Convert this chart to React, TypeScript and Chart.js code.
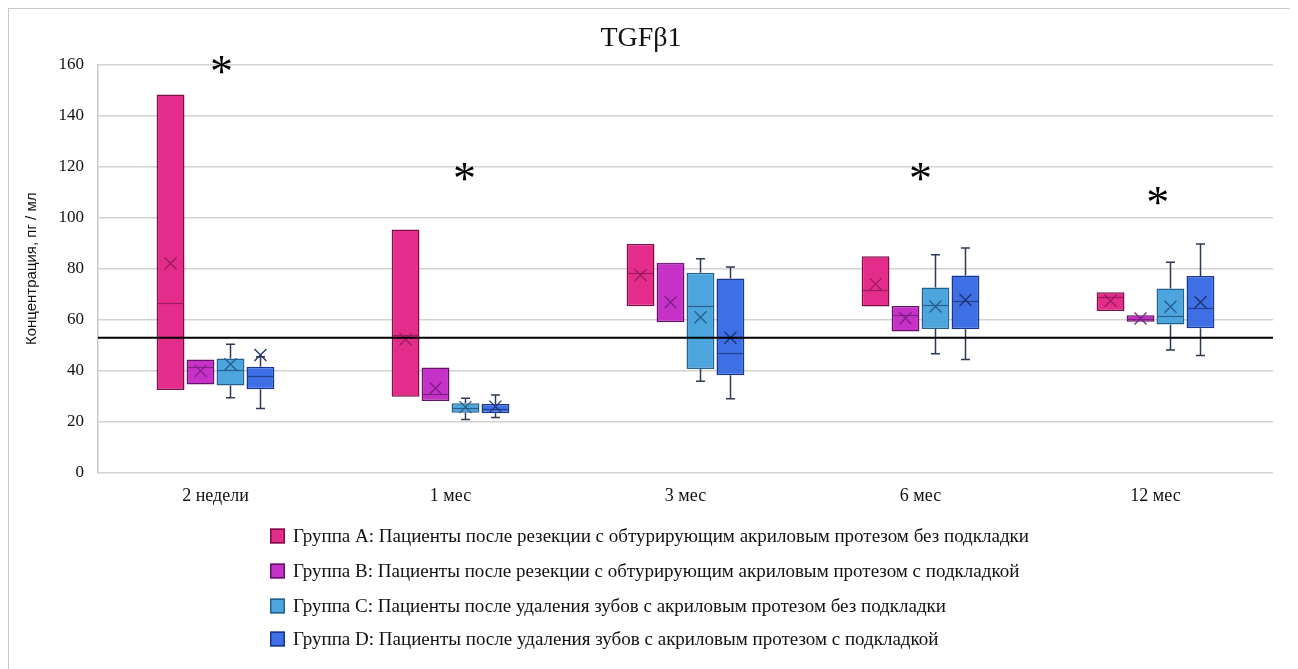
import React, { useEffect, useRef } from 'react';
import { Chart, registerables } from 'chart.js';

Chart.register(...registerables);

const title = 'TGFβ1';
const yAxisTitle = 'Концентрация, пг / мл';
const categories = ['2 недели', '1 мес', '3 мес', '6 мес', '12 мес'];
const groupNames = [
  'Группа A: Пациенты после резекции с обтурирующим акриловым протезом без подкладки',
  'Группа B: Пациенты после резекции с обтурирующим акриловым протезом с подкладкой',
  'Группа C: Пациенты после удаления зубов с акриловым протезом без подкладки',
  'Группа D: Пациенты после удаления зубов с акриловым протезом с подкладкой',
];
const yTicksMin = 0;
const yTicksMax = 160;
const yTicksStep = 20;

// Group A
const minA = [32.5, 29.9, 65.3, 65.2, 63.5];
const q1A = [32.5, 29.9, 65.3, 65.2, 63.5];
const medianA = [66.5, 54, 78.2, 71.8, 69];
const q3A = [148.3, 95.4, 89.7, 84.9, 70.8];
const maxA = [148.3, 95.4, 89.7, 84.9, 70.8];
const meanA = [82.1, 52.4, 77.6, 74, 67.5];

// Group B
const minB = [34.7, 28.2, 59.1, 55.4, 59.3];
const q1B = [34.7, 28.2, 59.1, 55.4, 59.3];
const medianB = [41.4, 30.8, 82.3, 61.8, 60.5];
const q3B = [44.5, 41.3, 82.3, 65.4, 61.8];
const maxB = [44.5, 41.3, 82.3, 65.4, 61.8];
const meanB = [40, 33.2, 66.9, 60.6, 60.5];

// Group C
const minC = [29.5, 21, 35.9, 46.7, 48.2];
const q1C = [34.3, 23.6, 40.7, 56.4, 58.2];
const medianC = [40.3, 25.6, 65.3, 65.8, 61.5];
const q3C = [44.9, 27.3, 78.5, 72.7, 72.3];
const maxC = [50.4, 29.3, 83.9, 85.5, 82.6];
const meanC = [42.6, 25.8, 61, 65.2, 65.1];

// Group D
const minD = [25.3, 21.7, 29.1, 44.5, 46];
const q1D = [32.8, 23.4, 38.3, 56.3, 56.7];
const medianD = [38, 25.2, 47.1, 67.4, 64.8];
const q3D = [41.6, 27, 76.2, 77.4, 77.2];
const maxD = [45.5, 30.6, 80.7, 88.1, 89.7];
const meanD = [46.2, 26, 53, 67.8, 66.9];

// Reference level (horizontal line)
const referenceLevel = 53;

// Significance asterisks (category position, value)
const asteriskPositions = [0.025, 1.06, 3.0, 4.01];
const asteriskValues = [159.8, 118, 118, 108.5];

const groups = [
  { min: minA, q1: q1A, median: medianA, q3: q3A, max: maxA, mean: meanA },
  { min: minB, q1: q1B, median: medianB, q3: q3B, max: maxB, mean: meanB },
  { min: minC, q1: q1C, median: medianC, q3: q3C, max: maxC, mean: meanC },
  { min: minD, q1: q1D, median: medianD, q3: q3D, max: maxD, mean: meanD },
];

const fills = ['#E42C8B', '#C632C8', '#4CA6DD', '#3F6FE4'];
const borders = ['#7E0C45', '#641266', '#25618D', '#18368F'];
const medianColors = ['#9C1D5E', '#82208A', '#2A5F8C', '#22408F'];
const meanColors = ['#9A1C5C', '#7E1E86', '#245E8C', '#1E3170'];
const whiskerColor = '#2C3A56';
const serif = '"Liberation Serif", "Times New Roman", serif';

const boxPlugin = {
  id: 'boxExtras',
  beforeDatasetsDraw(chart: any) {
    const ctx = chart.ctx;
    const y = chart.scales.y;
    ctx.save();
    ctx.strokeStyle = whiskerColor;
    ctx.lineWidth = 1.5;
    groups.forEach((g, i) => {
      const meta = chart.getDatasetMeta(i);
      meta.data.forEach((bar: any, j: number) => {
        const x = Math.round(bar.x) + 0.5;
        const cap = 4.5;
        const seg = (a: number, b: number) => {
          const ya = y.getPixelForValue(a);
          const yb = y.getPixelForValue(b);
          ctx.beginPath();
          ctx.moveTo(x, ya);
          ctx.lineTo(x, yb);
          ctx.moveTo(x - cap, yb);
          ctx.lineTo(x + cap, yb);
          ctx.stroke();
        };
        if (g.max[j] > g.q3[j]) seg(g.q3[j], g.max[j]);
        if (g.min[j] < g.q1[j]) seg(g.q1[j], g.min[j]);
      });
    });
    ctx.restore();
  },
  afterDatasetsDraw(chart: any) {
    const ctx = chart.ctx;
    const y = chart.scales.y;
    const xs = chart.scales.x;
    const area = chart.chartArea;
    ctx.save();
    groups.forEach((g, i) => {
      const meta = chart.getDatasetMeta(i);
      meta.data.forEach((bar: any, j: number) => {
        const x = bar.x;
        const hw = bar.width / 2;
        const ym = Math.round(y.getPixelForValue(g.median[j])) + 0.5;
        ctx.strokeStyle = medianColors[i];
        ctx.lineWidth = 1.2;
        ctx.beginPath();
        ctx.moveTo(x - hw + 1, ym);
        ctx.lineTo(x + hw - 1, ym);
        ctx.stroke();
        const yMean = y.getPixelForValue(g.mean[j]);
        const s = 6;
        ctx.strokeStyle = meanColors[i];
        ctx.lineWidth = 1.3;
        ctx.beginPath();
        ctx.moveTo(x - s, yMean - s);
        ctx.lineTo(x + s, yMean + s);
        ctx.moveTo(x - s, yMean + s);
        ctx.lineTo(x + s, yMean - s);
        ctx.stroke();
      });
    });
    // reference line
    const yr = y.getPixelForValue(referenceLevel);
    ctx.strokeStyle = '#000000';
    ctx.lineWidth = 2;
    ctx.beginPath();
    ctx.moveTo(area.left, yr);
    ctx.lineTo(area.right, yr);
    ctx.stroke();
    // asterisks
    ctx.fillStyle = '#000000';
    ctx.font = `46px ${serif}`;
    ctx.textAlign = 'center';
    ctx.textBaseline = 'alphabetic';
    const m = ctx.measureText('*');
    const asc = m.actualBoundingBoxAscent;
    const desc = m.actualBoundingBoxDescent;
    asteriskPositions.forEach((p, k) => {
      const px = xs.getPixelForValue(p);
      const py = y.getPixelForValue(asteriskValues[k]);
      ctx.fillText('*', px, py + (asc - desc) / 2);
    });
    ctx.restore();
  },
  afterDraw(chart: any) {
    const ctx = chart.ctx;
    ctx.save();
    const sqX = 261;
    const textX = 284;
    const rowY = [527, 562, 597, 630];
    ctx.font = `19px ${serif}`;
    ctx.textBaseline = 'middle';
    ctx.textAlign = 'left';
    groupNames.forEach((name, i) => {
      const cy = rowY[i];
      const grad = ctx.createLinearGradient(sqX, cy - 8, sqX + 16, cy + 8);
      grad.addColorStop(0, fills[i]);
      grad.addColorStop(1, borders[i]);
      ctx.fillStyle = fills[i];
      ctx.fillRect(sqX, cy - 7.5, 15, 15);
      ctx.strokeStyle = borders[i];
      ctx.lineWidth = 1.5;
      ctx.strokeRect(sqX + 0.75, cy - 6.75, 13.5, 13.5);
      ctx.fillStyle = '#111111';
      ctx.fillText(name, textX, cy + 1);
    });
    ctx.restore();
  },
};

export default function App() {
  const ref = useRef<HTMLCanvasElement>(null);
  useEffect(() => {
    const canvas = ref.current;
    if (!canvas) return;
    const chart = new Chart(canvas, {
      type: 'bar',
      data: {
        labels: categories,
        datasets: groups.map((g, i) => ({
          label: groupNames[i],
          data: g.q1.map((v, j) => [v, g.q3[j]]) as any,
          backgroundColor: fills[i],
          borderColor: borders[i],
          borderWidth: 1.5,
          borderSkipped: false,
          categoryPercentage: 0.51,
          barPercentage: 0.93,
        })),
      },
      options: {
        responsive: false,
        animation: false,
        layout: { padding: { left: 0, right: 20, top: 0, bottom: 0 } },
        plugins: {
          legend: { display: false },
          tooltip: { enabled: false },
          title: {
            display: true,
            text: title,
            color: '#111111',
            font: { family: serif, size: 28, weight: 'normal' },
            padding: { top: 13, bottom: 9 },
          },
        },
        scales: {
          x: {
            type: 'category',
            grid: { display: false },
            border: { display: false },
            ticks: { color: '#111111', font: { family: serif, size: 18 }, padding: 4 },
            afterFit: (s: any) => {
              s.height = 196;
            },
          },
          y: {
            min: yTicksMin,
            max: yTicksMax,
            ticks: { stepSize: yTicksStep, color: '#111111', font: { family: serif, size: 17 }, padding: 14 },
            grid: { color: '#d2d2d2', lineWidth: 1.5, drawTicks: false },
            border: { display: true, color: '#c8c8c8', width: 1.5 },
            title: {
              display: true,
              text: yAxisTitle,
              color: '#111111',
              font: { family: '"Liberation Sans", Arial, sans-serif', size: 15 },
              padding: { top: 14, bottom: 0 },
            },
            afterFit: (s: any) => {
              s.width = 89;
            },
          },
        },
      },
      plugins: [boxPlugin],
    });
    return () => chart.destroy();
  }, []);
  return (
    <div
      style={{
        width: 1286,
        height: 661,
        boxSizing: 'border-box',
        borderTop: '1px solid #c8c8c8',
        borderLeft: '1px solid #c8c8c8',
        borderRight: '1px solid #c8c8c8',
        background: '#ffffff',
      }}
    >
      <canvas ref={ref} width={1284} height={660} style={{ display: 'block', width: 1284, height: 660 }} />
    </div>
  );
}
